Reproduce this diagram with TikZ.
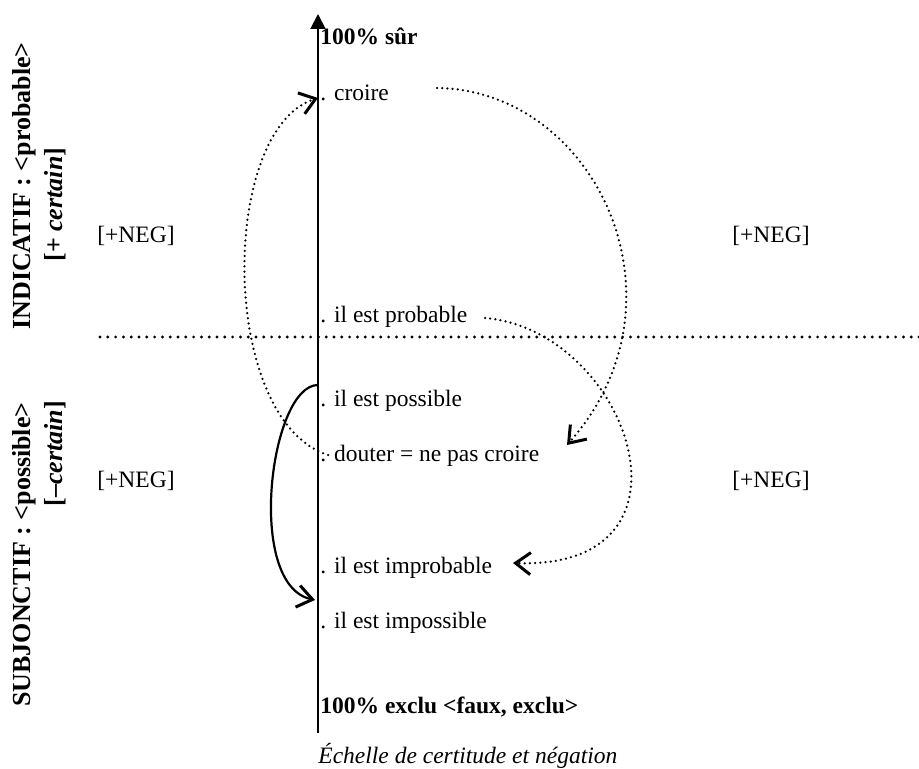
\documentclass[tikz,border=0pt]{standalone}
\usepackage{fontspec}
\setmainfont{Liberation Serif}
\usetikzlibrary{arrows.meta}
\begin{document}
\begin{tikzpicture}[x=0.5pt,y=-0.5pt,
  lbl/.style={anchor=base west,inner sep=0pt,font=\fontsize{11.75pt}{14pt}\selectfont},
  lblb/.style={lbl,font=\fontsize{11.75pt}{14pt}\selectfont\bfseries},
  moodlbl/.style={lbl,rotate=90,font=\fontsize{13pt}{15pt}\selectfont\bfseries},
  axisline/.style={line width=1pt,-{Triangle[length=7.5pt,width=7.5pt]}},
  hdot/.style={line width=1.6pt,dash pattern=on 0pt off 3.9pt,line cap=round},
  darr/.style={line width=1.25pt,dash pattern=on 0pt off 2.6pt,line cap=round,
    -{Straight Barb[length=7.5pt,width=11pt,line width=1.5pt]}},
  sarr/.style={line width=1.1pt,-{Straight Barb[length=7.5pt,width=11pt,line width=1.5pt]}}
]
\useasboundingbox (0,0) rectangle (919,769);
% axis
\coordinate (ax0) at (318,733);
\coordinate (ax1) at (318,14);
\draw[axisline] (ax0) -- (ax1);
% horizontal dotted separator
\coordinate (h0) at (100,337);
\coordinate (h1) at (919,337);
\draw[hdot] (h0) -- (h1);
% scale labels
\node[lblb] (sur) at (320,45) {100\% sûr};
\node[lbl] (croire) at (320,101) {. croire};
\node[lbl] (prob) at (320,323) {. il est probable};
\node[lbl] (poss) at (320,407) {. il est possible};
\node[lbl] (douter) at (320,461) {. douter = ne pas croire};
\node[lbl] (improb) at (320,573) {. il est improbable};
\node[lbl] (imposs) at (320,628) {. il est impossible};
\node[lblb] (exclu) at (320,713) {100\% exclu <faux, exclu>};
\node[lbl,font=\fontsize{11.75pt}{14pt}\selectfont\itshape] (caption) at (318,763) {Échelle de certitude et négation};
% [+NEG]
\node[lbl] (neg1) at (97,243) {[+NEG]};
\node[lbl] (neg2) at (732,243) {[+NEG]};
\node[lbl] (neg3) at (97,487) {[+NEG]};
\node[lbl] (neg4) at (732,487) {[+NEG]};
% rotated mood labels
\node[moodlbl] (ind) at (30,330) {INDICATIF : <probable>};
\node[moodlbl] (indc) at (62,262) {[+ \textit{certain}]};
\node[moodlbl] (sub) at (30,707) {SUBJONCTIF : <possible>};
\node[moodlbl] (subc) at (62,507) {[–\textit{certain}]};
% connectors
\coordinate (a0) at (437,88);
\coordinate (a1) at (567,445);
\draw[darr] (a0) .. controls (595,90) and (695,300) .. (a1);
\coordinate (b0) at (485,318);
\coordinate (b1) at (513,563);
\draw[darr] (b0) .. controls (628,330) and (712,570) .. (b1);
\coordinate (c0) at (328,455);
\coordinate (c1) at (318,98);
\draw[darr] (c0) .. controls (219,420) and (219,130) .. (c1);
\coordinate (d0) at (318,385);
\coordinate (d1) at (315,600);
\draw[sarr] (d0) .. controls (270,385) and (245,585) .. (d1);
\end{tikzpicture}
\end{document}
